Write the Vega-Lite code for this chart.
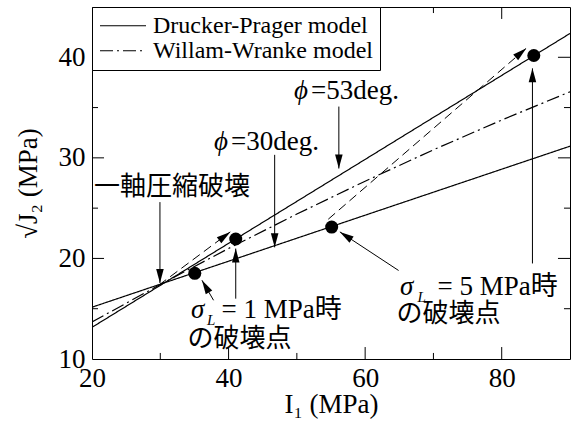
{
  "$schema": "https://vega.github.io/schema/vega-lite/v6.json",
  "width": 478,
  "height": 352,
  "autosize": {"type": "none"},
  "padding": {"left": 92, "top": 7, "right": 4, "bottom": 67},
  "background": "white",
  "config": {
    "view": {"stroke": null},
    "font": "Liberation Serif, Noto Sans CJK JP",
    "style": {"guide-label": {"font": "Liberation Serif, Noto Sans CJK JP", "fontSize": 27}, "guide-title": {"font": "Liberation Serif, Noto Sans CJK JP", "fontSize": 27, "fontWeight": "normal"}},
    "axis": {
      "domainColor": "black", "domainWidth": 1, "ticks": false,
      "grid": false, "labelColor": "black", "titleColor": "black", "titleFontWeight": "normal",
      "labelFont": "Liberation Serif, Noto Sans CJK JP", "titleFont": "Liberation Serif, Noto Sans CJK JP",
      "labelFlush": false, "labelOverlap": false, "labelBound": false
    },
    "legend": {
      "orient": "top-left", "offset": 0, "padding": 7, "strokeColor": "black", "strokeWidth": 1,
      "fillColor": "white", "labelFont": "Liberation Serif", "labelFontSize": 24, "labelColor": "black",
      "labelLimit": 400, "symbolType": "stroke", "symbolSize": 2116, "symbolStrokeColor": "black",
      "symbolStrokeWidth": 1.2, "clipHeight": 23.5, "rowPadding": 0, "labelOffset": 6
    }
  },
  "datasets": {
    "models": [
      {"model": "Drucker-Prager model", "id": "dp30", "x": 20, "y": 15.15},
      {"model": "Drucker-Prager model", "id": "dp30", "x": 90, "y": 31.16},
      {"model": "Drucker-Prager model", "id": "dp53", "x": 20, "y": 13.15},
      {"model": "Drucker-Prager model", "id": "dp53", "x": 90, "y": 42.37},
      {"model": "Willam-Wranke model", "id": "ww", "x": 20, "y": 13.68},
      {"model": "Willam-Wranke model", "id": "ww", "x": 30, "y": 17.41},
      {"model": "Willam-Wranke model", "id": "ww", "x": 40, "y": 20.99},
      {"model": "Willam-Wranke model", "id": "ww", "x": 50, "y": 24.41},
      {"model": "Willam-Wranke model", "id": "ww", "x": 60, "y": 27.68},
      {"model": "Willam-Wranke model", "id": "ww", "x": 70, "y": 30.8},
      {"model": "Willam-Wranke model", "id": "ww", "x": 80, "y": 33.76},
      {"model": "Willam-Wranke model", "id": "ww", "x": 90, "y": 36.57}
    ],
    "failures": [
      {"x": 35.05, "y": 18.52},
      {"x": 41.05, "y": 21.93},
      {"x": 55.1, "y": 23.12},
      {"x": 84.7, "y": 40.18}
    ],
    "callouts": [
      {"id": "a1", "x": 29.95, "y": 25.6, "x2": 29.95, "y2": 17.55},
      {"id": "a2", "x": 46.75, "y": 30.3, "x2": 46.75, "y2": 21.1},
      {"id": "a3", "x": 56.15, "y": 35.1, "x2": 56.15, "y2": 28.94},
      {"id": "a4", "x": 41.05, "y": 16.0, "x2": 41.05, "y2": 20.98},
      {"id": "a5", "x": 84.5, "y": 19.5, "x2": 84.5, "y2": 38.9},
      {"id": "a6", "x": 37.8, "y": 15.84, "x2": 36.1, "y2": 17.83},
      {"id": "a7", "x": 64.9, "y": 18.8, "x2": 56.3, "y2": 22.64}
    ],
    "paths": [
      {"id": "d1", "x": 29.8, "y": 17.35, "x2": 40.25, "y2": 22.64},
      {"id": "d2", "x": 54.6, "y": 23.9, "x2": 83.6, "y2": 40.9}
    ],
    "xticks": [
      {"v": 30, "rank": "minor"}, {"v": 40, "rank": "major"}, {"v": 50, "rank": "minor"},
      {"v": 60, "rank": "major"}, {"v": 70, "rank": "minor"}, {"v": 80, "rank": "major"}
    ],
    "yticks": [
      {"v": 15, "rank": "minor"}, {"v": 20, "rank": "major"}, {"v": 25, "rank": "minor"},
      {"v": 30, "rank": "major"}, {"v": 35, "rank": "minor"}, {"v": 40, "rank": "major"}
    ],
    "notesJa": [
      {"text": "一軸圧縮破壊", "x": 20.3, "y": 27.13},
      {"text": "の破壊点", "x": 34.0, "y": 12.0},
      {"text": "の破壊点", "x": 64.6, "y": 14.45}
    ],
    "notesRoman": [
      {"text": "=30deg.", "x": 40.35, "y": 30.75},
      {"text": "=53deg.", "x": 52.06, "y": 35.84},
      {"text": "= 1 MPa時", "x": 38.95, "y": 14.05},
      {"text": "= 5 MPa時", "x": 70.6, "y": 16.33}
    ],
    "notesGreek": [
      {"text": "ϕ", "x": 37.86, "y": 30.75},
      {"text": "ϕ", "x": 49.58, "y": 35.84},
      {"text": "σ", "x": 34.5, "y": 14.05},
      {"text": "σ", "x": 65.1, "y": 16.33}
    ],
    "notesSub": [
      {"text": "L", "x": 36.85, "y": 13.35},
      {"text": "L", "x": 67.65, "y": 15.7}
    ]
  },
  "layer": [
    {
      "data": {"name": "models"},
      "mark": {"type": "line", "color": "black", "strokeWidth": 1.2, "clip": true},
      "encoding": {
        "x": {"field": "x", "type": "quantitative", "scale": {"domain": [20, 90], "nice": false, "zero": false},
          "axis": {"orient": "bottom", "title": "I₁ (MPa)", "values": [20, 40, 60, 80],
            "labelFont": "Liberation Serif, Noto Sans CJK JP", "labelFontSize": 27,
            "titleFont": "Liberation Serif, Noto Sans CJK JP", "titleFontSize": 27,
            "ticks": false, "labelPadding": 6, "titlePadding": 0}},
        "y": {"field": "y", "type": "quantitative", "scale": {"domain": [10, 45], "nice": false, "zero": false},
          "axis": {"orient": "left", "title": "√J₂ (MPa)", "values": [10, 20, 30, 40],
            "labelFont": "Liberation Serif, Noto Sans CJK JP", "labelFontSize": 27,
            "titleFont": "Liberation Serif, Noto Sans CJK JP", "titleFontSize": 27,
            "ticks": false, "labelPadding": 7, "titlePadding": 16}},
        "strokeDash": {"field": "model", "type": "nominal",
          "scale": {"domain": ["Drucker-Prager model", "Willam-Wranke model"], "range": [[1, 0], [13, 4, 2, 4]]},
          "legend": {"title": null}},
        "detail": {"field": "id"}
      }
    },
    {
      "data": {"name": "failures"},
      "mark": {"type": "point", "shape": "circle", "filled": true, "color": "black", "opacity": 1, "size": 169},
      "encoding": {
        "x": {"field": "x", "type": "quantitative",
          "axis": {"orient": "top", "title": null, "labels": false, "ticks": false, "values": [20]}},
        "y": {"field": "y", "type": "quantitative",
          "axis": {"orient": "right", "title": null, "labels": false, "ticks": false, "values": [10]}}
      }
    },
    {
      "data": {"name": "xticks"},
      "transform": [{"filter": "datum.rank === 'major'"}],
      "mark": {"type": "rule", "color": "black", "strokeWidth": 1},
      "encoding": {"x": {"field": "v", "type": "quantitative", "axis": null}, "y": {"datum": 10, "type": "quantitative", "axis": null}, "y2": {"datum": 11.19}}
    },
    {
      "data": {"name": "xticks"},
      "transform": [{"filter": "datum.rank === 'minor'"}],
      "mark": {"type": "rule", "color": "black", "strokeWidth": 1},
      "encoding": {"x": {"field": "v", "type": "quantitative", "axis": null}, "y": {"datum": 10, "type": "quantitative", "axis": null}, "y2": {"datum": 10.6}}
    },
    {
      "data": {"name": "xticks"},
      "transform": [{"filter": "datum.rank === 'major'"}],
      "mark": {"type": "rule", "color": "black", "strokeWidth": 1},
      "encoding": {"x": {"field": "v", "type": "quantitative", "axis": null}, "y": {"datum": 45, "type": "quantitative", "axis": null}, "y2": {"datum": 43.81}}
    },
    {
      "data": {"name": "xticks"},
      "transform": [{"filter": "datum.rank === 'minor'"}],
      "mark": {"type": "rule", "color": "black", "strokeWidth": 1},
      "encoding": {"x": {"field": "v", "type": "quantitative", "axis": null}, "y": {"datum": 45, "type": "quantitative", "axis": null}, "y2": {"datum": 44.4}}
    },
    {
      "data": {"name": "yticks"},
      "transform": [{"filter": "datum.rank === 'major'"}],
      "mark": {"type": "rule", "color": "black", "strokeWidth": 1},
      "encoding": {"y": {"field": "v", "type": "quantitative", "axis": null}, "x": {"datum": 20, "type": "quantitative", "axis": null}, "x2": {"datum": 21.76}}
    },
    {
      "data": {"name": "yticks"},
      "transform": [{"filter": "datum.rank === 'minor'"}],
      "mark": {"type": "rule", "color": "black", "strokeWidth": 1},
      "encoding": {"y": {"field": "v", "type": "quantitative", "axis": null}, "x": {"datum": 20, "type": "quantitative", "axis": null}, "x2": {"datum": 20.88}}
    },
    {
      "data": {"name": "yticks"},
      "transform": [{"filter": "datum.rank === 'major'"}],
      "mark": {"type": "rule", "color": "black", "strokeWidth": 1},
      "encoding": {"y": {"field": "v", "type": "quantitative", "axis": null}, "x": {"datum": 90, "type": "quantitative", "axis": null}, "x2": {"datum": 88.24}}
    },
    {
      "data": {"name": "yticks"},
      "transform": [{"filter": "datum.rank === 'minor'"}],
      "mark": {"type": "rule", "color": "black", "strokeWidth": 1},
      "encoding": {"y": {"field": "v", "type": "quantitative", "axis": null}, "x": {"datum": 90, "type": "quantitative", "axis": null}, "x2": {"datum": 89.12}}
    },
    {
      "data": {"name": "paths"},
      "mark": {"type": "rule", "color": "black", "strokeWidth": 1, "strokeDash": [9, 5]},
      "encoding": {
        "x": {"field": "x", "type": "quantitative", "axis": null},
        "y": {"field": "y", "type": "quantitative", "axis": null},
        "x2": {"field": "x2"}, "y2": {"field": "y2"}
      }
    },
    {
      "data": {"name": "callouts"},
      "mark": {"type": "rule", "color": "black", "strokeWidth": 1},
      "encoding": {
        "x": {"field": "x", "type": "quantitative", "axis": null},
        "y": {"field": "y", "type": "quantitative", "axis": null},
        "x2": {"field": "x2"}, "y2": {"field": "y2"}
      }
    },
    {
      "data": {"name": "callouts"},
      "transform": [{"filter": "indexof(['a1','a2','a3'], datum.id) >= 0"}],
      "mark": {"type": "point", "shape": "M0,0L0.54,2L-0.54,2Z", "filled": true, "color": "black", "opacity": 1, "size": 196, "angle": 180},
      "encoding": {"x": {"field": "x2", "type": "quantitative", "axis": null}, "y": {"field": "y2", "type": "quantitative", "axis": null}}
    },
    {
      "data": {"name": "callouts"},
      "transform": [{"filter": "indexof(['a4','a5'], datum.id) >= 0"}],
      "mark": {"type": "point", "shape": "M0,0L0.54,2L-0.54,2Z", "filled": true, "color": "black", "opacity": 1, "size": 196, "angle": 0},
      "encoding": {"x": {"field": "x2", "type": "quantitative", "axis": null}, "y": {"field": "y2", "type": "quantitative", "axis": null}}
    },
    {
      "data": {"name": "callouts"},
      "transform": [{"filter": "datum.id === 'a6'"}],
      "mark": {"type": "point", "shape": "M0,0L0.54,2L-0.54,2Z", "filled": true, "color": "black", "opacity": 1, "size": 196, "angle": 329.7},
      "encoding": {"x": {"field": "x2", "type": "quantitative", "axis": null}, "y": {"field": "y2", "type": "quantitative", "axis": null}}
    },
    {
      "data": {"name": "callouts"},
      "transform": [{"filter": "datum.id === 'a7'"}],
      "mark": {"type": "point", "shape": "M0,0L0.54,2L-0.54,2Z", "filled": true, "color": "black", "opacity": 1, "size": 196, "angle": 303.3},
      "encoding": {"x": {"field": "x2", "type": "quantitative", "axis": null}, "y": {"field": "y2", "type": "quantitative", "axis": null}}
    },
    {
      "data": {"name": "paths"},
      "transform": [{"filter": "datum.id === 'd1'"}],
      "mark": {"type": "point", "shape": "M0,0L0.54,2L-0.54,2Z", "filled": true, "color": "black", "opacity": 1, "size": 196, "angle": 53.1},
      "encoding": {"x": {"field": "x2", "type": "quantitative", "axis": null}, "y": {"field": "y2", "type": "quantitative", "axis": null}}
    },
    {
      "data": {"name": "paths"},
      "transform": [{"filter": "datum.id === 'd2'"}],
      "mark": {"type": "point", "shape": "M0,0L0.54,2L-0.54,2Z", "filled": true, "color": "black", "opacity": 1, "size": 196, "angle": 49.2},
      "encoding": {"x": {"field": "x2", "type": "quantitative", "axis": null}, "y": {"field": "y2", "type": "quantitative", "axis": null}}
    },
    {
      "data": {"name": "notesJa"},
      "mark": {"type": "text", "font": "Noto Sans CJK JP", "fontSize": 26, "align": "left", "baseline": "middle", "color": "black"},
      "encoding": {"x": {"field": "x", "type": "quantitative", "axis": null}, "y": {"field": "y", "type": "quantitative", "axis": null}, "text": {"field": "text"}}
    },
    {
      "data": {"name": "notesRoman"},
      "mark": {"type": "text", "font": "Liberation Serif, Noto Sans CJK JP", "fontSize": 27, "align": "left", "baseline": "alphabetic", "color": "black"},
      "encoding": {"x": {"field": "x", "type": "quantitative", "axis": null}, "y": {"field": "y", "type": "quantitative", "axis": null}, "text": {"field": "text"}}
    },
    {
      "data": {"name": "notesGreek"},
      "mark": {"type": "text", "font": "Liberation Serif", "fontStyle": "italic", "fontSize": 27, "align": "left", "baseline": "alphabetic", "color": "black"},
      "encoding": {"x": {"field": "x", "type": "quantitative", "axis": null}, "y": {"field": "y", "type": "quantitative", "axis": null}, "text": {"field": "text"}}
    },
    {
      "data": {"name": "notesSub"},
      "mark": {"type": "text", "font": "Liberation Serif", "fontStyle": "italic", "fontSize": 15, "align": "left", "baseline": "alphabetic", "color": "black"},
      "encoding": {"x": {"field": "x", "type": "quantitative", "axis": null}, "y": {"field": "y", "type": "quantitative", "axis": null}, "text": {"field": "text"}}
    }
  ],
  "resolve": {"axis": {"x": "independent", "y": "independent"}}
}
